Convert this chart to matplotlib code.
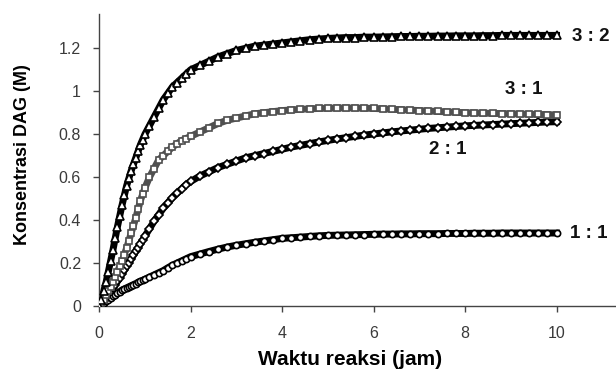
import matplotlib
matplotlib.use("Agg")
import matplotlib.pyplot as plt
from matplotlib.ticker import FuncFormatter

# --[data]----------------------------------------------------------------------
waktu = [0.0, 0.05, 0.1, 0.15, 0.2, 0.25, 0.3, 0.35, 0.4, 0.45, 0.5,
         0.55, 0.6, 0.65, 0.7, 0.75, 0.8, 0.85, 0.9, 0.95, 1.0,
         1.1, 1.2, 1.3, 1.4, 1.5, 1.6, 1.7, 1.8, 1.9, 2.0,
         2.2, 2.4, 2.6, 2.8, 3.0, 3.2, 3.4, 3.6, 3.8, 4.0,
         4.2, 4.4, 4.6, 4.8, 5.0, 5.2, 5.4, 5.6, 5.8, 6.0,
         6.2, 6.4, 6.6, 6.8, 7.0, 7.2, 7.4, 7.6, 7.8, 8.0,
         8.2, 8.4, 8.6, 8.8, 9.0, 9.2, 9.4, 9.6, 9.8, 10.0]

dag_3_2 = [0, 0.03, 0.07, 0.11, 0.16, 0.21, 0.26, 0.315, 0.37, 0.42, 0.47,
           0.515, 0.56, 0.595, 0.63, 0.66, 0.69, 0.72, 0.75, 0.775, 0.80,
           0.84, 0.88, 0.92, 0.96, 0.99, 1.02, 1.04, 1.06, 1.08, 1.10,
           1.12, 1.14, 1.16, 1.175, 1.19, 1.20, 1.21, 1.215, 1.22, 1.225,
           1.23, 1.235, 1.24, 1.243, 1.246, 1.248, 1.25, 1.25, 1.252, 1.252,
           1.253, 1.254, 1.255, 1.255, 1.256, 1.256, 1.257, 1.257, 1.258, 1.258,
           1.258, 1.259, 1.259, 1.26, 1.26, 1.26, 1.26, 1.26, 1.26, 1.26]

dag_3_1 = [0, 0.015, 0.03, 0.05, 0.07, 0.09, 0.11, 0.135, 0.16, 0.185, 0.21,
           0.24, 0.27, 0.305, 0.34, 0.375, 0.41, 0.45, 0.49, 0.52, 0.55,
           0.60, 0.64, 0.68, 0.70, 0.72, 0.74, 0.755, 0.77, 0.78, 0.79,
           0.81, 0.83, 0.85, 0.865, 0.875, 0.885, 0.895, 0.90, 0.905, 0.91,
           0.913, 0.916, 0.918, 0.92, 0.921, 0.922, 0.922, 0.922, 0.921, 0.92,
           0.918, 0.916, 0.914, 0.912, 0.91, 0.908, 0.906, 0.904, 0.902, 0.90,
           0.899, 0.898, 0.897, 0.896, 0.895, 0.894, 0.893, 0.892, 0.891, 0.89]

dag_2_1 = [0, 0.012, 0.025, 0.04, 0.055, 0.07, 0.085, 0.10, 0.115, 0.132, 0.15,
           0.167, 0.185, 0.202, 0.22, 0.237, 0.255, 0.272, 0.29, 0.307, 0.325,
           0.36, 0.395, 0.425, 0.455, 0.48, 0.505, 0.525, 0.545, 0.565, 0.58,
           0.605, 0.625, 0.645, 0.66, 0.675, 0.69, 0.70, 0.71, 0.72, 0.73,
           0.74, 0.748, 0.756, 0.764, 0.771, 0.778, 0.784, 0.79, 0.796, 0.801,
           0.806, 0.811, 0.815, 0.819, 0.823, 0.827, 0.83, 0.833, 0.836, 0.839,
           0.841, 0.843, 0.845, 0.847, 0.849, 0.851, 0.853, 0.855, 0.857, 0.858]

dag_1_1 = [0, 0.008, 0.015, 0.022, 0.03, 0.037, 0.045, 0.052, 0.06, 0.067, 0.075,
           0.08, 0.085, 0.09, 0.095, 0.10, 0.105, 0.11, 0.115, 0.12, 0.125,
           0.135, 0.145, 0.155, 0.165, 0.178, 0.19, 0.20, 0.21, 0.22, 0.23,
           0.242, 0.254, 0.265, 0.275, 0.283, 0.29, 0.297, 0.303, 0.309, 0.315,
           0.318, 0.321, 0.324, 0.327, 0.329, 0.33, 0.331, 0.332, 0.333, 0.334,
           0.335, 0.335, 0.336, 0.336, 0.337, 0.337, 0.337, 0.338, 0.338, 0.338,
           0.339, 0.339, 0.339, 0.34, 0.34, 0.34, 0.34, 0.34, 0.34, 0.34]

labels = ["3 : 2", "3 : 1", "2 : 1", "1 : 1"]
label_pos = [(10.75, 1.257), (9.28, 1.01), (7.63, 0.73), (10.7, 0.336)]


# --[plot]---------------------------------------------------------------------
plt.rcParams['font.family'] = ['Liberation Sans', 'DejaVu Sans']

fig = plt.figure(figsize=(6.16, 3.76), dpi=100)
ax = fig.add_axes([0.161, 0.186, 0.839, 0.777])

series = [
    (dag_1_1, 'o', 'black', 4.5),
    (dag_2_1, 'D', 'black', 4.5),
    (dag_3_1, 's', '#505050', 5),
    (dag_3_2, '^', 'black', 5.5),
]
for values, marker, color, ms in series:
    ax.plot(waktu, values, color=color, lw=5, zorder=2)
    ax.plot(waktu, values, linestyle='none', marker=marker, ms=ms,
            mfc='white', mec=color, mew=1.2, zorder=3)

for text, (x, y) in zip(labels, label_pos):
    ax.text(x, y, text, fontsize=13.5, fontweight='bold', ha='center', va='center',
            color='#111111')

ax.set_xlim(0, 11.3)
ax.set_ylim(0, 1.36)
ax.set_xticks([0, 2, 4, 6, 8, 10])
ax.set_yticks([0, 0.2, 0.4, 0.6, 0.8, 1.0, 1.2])
ax.yaxis.set_major_formatter(FuncFormatter(lambda v, p: '%g' % v))

for side in ['top', 'right']:
    ax.spines[side].set_visible(False)
for side in ['left', 'bottom']:
    ax.spines[side].set_color('#444444')
    ax.spines[side].set_linewidth(1.0)
ax.tick_params(direction='out', length=4, width=1, color='#444444',
               labelsize=11.5, labelcolor='#3a3a3a')
ax.tick_params(axis='x', pad=10)
ax.tick_params(axis='y', pad=9)

ax.set_xlabel('Waktu reaksi (jam)', fontsize=15, fontweight='bold')
ax.set_ylabel('Konsentrasi DAG (M)', fontsize=13, fontweight='bold')
ax.xaxis.set_label_coords(0.486, -0.152)
ax.yaxis.set_label_coords(-0.132, 0.517)

fig.savefig('out.png', dpi=100)
